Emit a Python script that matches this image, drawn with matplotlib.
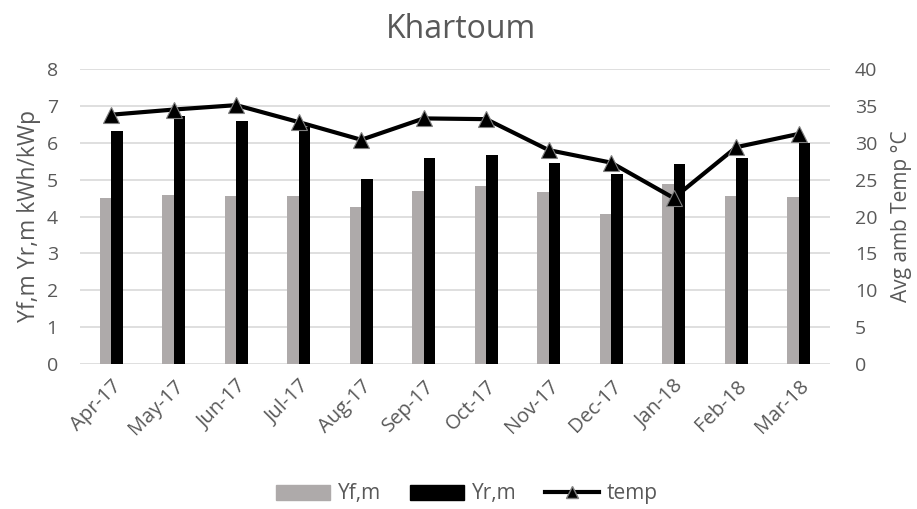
import matplotlib.pyplot as plt
import numpy as np
from matplotlib.lines import Line2D
from matplotlib.patches import Patch

plt.rcParams['font.family'] = ['Open Sans', 'DejaVu Sans']

months = ['Apr-17', 'May-17', 'Jun-17', 'Jul-17', 'Aug-17', 'Sep-17',
          'Oct-17', 'Nov-17', 'Dec-17', 'Jan-18', 'Feb-18', 'Mar-18']
yf = [4.51, 4.58, 4.55, 4.55, 4.25, 4.70, 4.84, 4.66, 4.07, 4.88, 4.55, 4.52]
yr = [6.32, 6.72, 6.59, 6.43, 5.03, 5.58, 5.66, 5.44, 5.15, 5.43, 5.58, 5.98]
temp = [33.8, 34.5, 35.1, 32.8, 30.4, 33.3, 33.2, 29.0, 27.3, 22.5, 29.4, 31.2]

grey_txt = '#595959'
x = np.arange(len(months))
w = 0.187

fig = plt.figure(figsize=(9.17, 5.09), dpi=100)
ax = fig.add_axes([80 / 917, 1 - 364 / 509, 750 / 917, 295 / 509])
ax2 = ax.twinx()

ax.set_zorder(1)
ax2.set_zorder(2)
ax.patch.set_visible(False)

ax.bar(x - w / 2, yf, w, color='#aeaaaa', zorder=3)
ax.bar(x + w / 2, yr, w, color='black', zorder=3)
ax2.plot(x, temp, color='black', lw=3, marker='^', ms=11,
         mfc='black', mec='#7f7f7f', mew=0.8, zorder=4)

ax.set_xlim(-0.5, len(months) - 0.5)
ax.set_ylim(0, 8)
ax2.set_ylim(0, 40)
ax.set_yticks(range(0, 9))
ax2.set_yticks(range(0, 41, 5))
ax.yaxis.grid(True, color='#d9d9d9', lw=1.2, zorder=0)

ax.set_xticks(x)
ax.set_xticklabels(months, rotation=45, ha='right', rotation_mode='anchor',
                   color=grey_txt)
for a in (ax, ax2):
    for s in a.spines.values():
        s.set_visible(False)
    a.tick_params(length=0, labelsize=14, colors=grey_txt)
ax.tick_params(axis='y', pad=16)
ax2.tick_params(axis='y', pad=18)
ax.tick_params(axis='x', pad=9, labelsize=14.5)

ax.set_ylabel('Yf,m Yr,m kWh/kWp', fontsize=16.5, color=grey_txt, labelpad=4)
ax2.set_ylabel('Avg amb Temp °C', fontsize=15, color=grey_txt, labelpad=10)
fig.text(461 / 917, 1 - 29 / 509, 'Khartoum', fontsize=23, color=grey_txt,
         ha='center', va='center')

handles = [Patch(color='#aeaaaa', label='Yf,m'),
           Patch(color='black', label='Yr,m'),
           Line2D([], [], color='black', lw=3, marker='^', ms=9, mfc='black',
                  mec='#7f7f7f', label='temp')]
leg = fig.legend(handles=handles, loc='center', ncol=3,
                 bbox_to_anchor=(467 / 917, 1 - 494 / 509), frameon=False,
                 fontsize=15, handlelength=2.6, handleheight=0.7,
                 columnspacing=1.4, handletextpad=0.35)
for t in leg.get_texts():
    t.set_color(grey_txt)

fig.savefig('out.png', dpi=100)
